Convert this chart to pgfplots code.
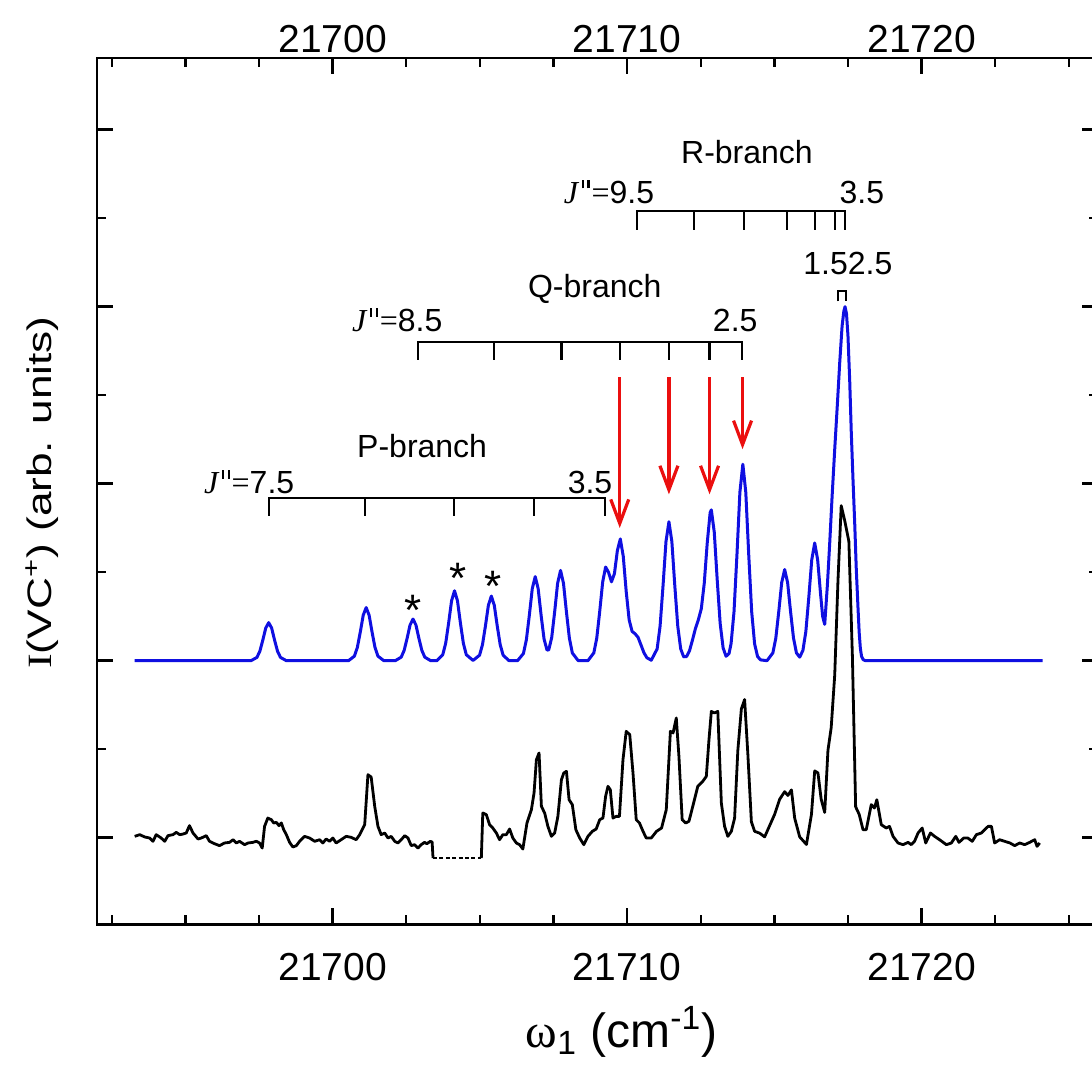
\documentclass[border=0pt]{standalone}
\usepackage{fontspec}
\setmainfont{Liberation Sans}
\newfontfamily\serif{Liberation Serif}
\usepackage{pgfplots}
\pgfplotsset{compat=1.18}
\usetikzlibrary{arrows.meta}
\definecolor{myblue}{RGB}{15,15,225}
\definecolor{myred}{RGB}{235,15,15}
\newcommand{\af}{\fontsize{16}{19}\selectfont}
\newcommand{\dq}{\kern0.12em\rule[0.46em]{0.07em}{0.26em}\kern0.1em\rule[0.46em]{0.07em}{0.26em}\kern0.06em}
\newcommand{\Jpp}{{\serif\itshape J}\dq{\serif =}}
\tikzset{brk/.style={line width=1.1pt}, rarr/.style={myred, line width=1.6pt, -{Straight Barb[length=12pt,width=9pt,line width=1.6pt]}}}
\begin{document}
\begin{tikzpicture}
\path[use as bounding box] (-48.5pt,-71.5pt) rectangle (497.5pt,462.2pt);
\begin{axis}[
  at={(0,0)}, anchor=south west, scale only axis,
  width=500.65pt, height=433.2pt,
  xmin=21692, xmax=21726, ymin=-0.98, ymax=8.81,
  xtick={21700,21710,21720}, scaled x ticks=false,
  minor xtick={21692.5,21695,21697.5,21702.5,21705,21707.5,21712.5,21715,21717.5,21722.5,21725},
  ytick={0,2,4,6,8}, minor ytick={1,3,5,7}, yticklabels={},
  tick pos=both, tick align=inside,
  major tick length=8pt, minor tick length=4.5pt,
  axis line style={line width=1.3pt},
  tick style={line width=1.2pt, black},
  xticklabel style={font=\fontsize{19.5}{22}\selectfont, yshift=-11pt},
  /pgf/number format/1000 sep={},
  /pgf/number format/assume math mode=true,
  clip=false,
]
% experimental (black)
\addplot[black, line width=1.4pt, line join=round] coordinates {
(21693.28,0.015) (21693.45,0.034) (21693.62,0.008) (21693.79,-0.004) (21693.90,-0.041) (21694.01,0.034) (21694.18,-0.004) (21694.30,-0.041) (21694.41,0.023) (21694.58,0.034) (21694.69,0.060) (21694.81,0.034) (21694.92,0.041) (21695.03,0.053) (21695.14,0.136) (21695.26,0.053) (21695.43,-0.015) (21695.54,-0.004) (21695.71,0.023) (21695.82,-0.041) (21695.99,-0.068) (21696.16,-0.090) (21696.33,-0.060) (21696.50,-0.053) (21696.62,-0.023) (21696.73,-0.060) (21696.84,-0.041) (21697.01,-0.079) (21697.13,-0.060) (21697.29,-0.053) (21697.41,-0.041) (21697.52,-0.060) (21697.61,-0.117) (21697.69,0.128) (21697.80,0.222) (21697.92,0.203) (21698.00,0.166) (21698.09,0.173) (21698.18,0.136) (21698.26,0.166) (21698.34,0.090) (21698.43,0.034) (21698.54,-0.053) (21698.65,-0.105) (21698.77,-0.090) (21698.88,-0.041) (21699.05,0.015) (21699.22,-0.004) (21699.39,-0.041) (21699.56,-0.023) (21699.67,-0.060) (21699.78,-0.015) (21699.90,-0.041) (21700.01,-0.004) (21700.12,-0.060) (21700.29,-0.023) (21700.46,0.015) (21700.63,0.004) (21700.80,-0.023) (21700.92,0.034) (21701.09,0.147) (21701.20,0.712) (21701.31,0.685) (21701.43,0.354) (21701.54,0.128) (21701.65,0.034) (21701.77,0.053) (21701.88,-0.004) (21701.99,0.015) (21702.11,-0.041) (21702.22,-0.060) (21702.33,-0.023) (21702.45,0.023) (21702.56,-0.004) (21702.67,-0.090) (21702.78,-0.079) (21702.90,-0.117) (21703.01,-0.079) (21703.12,-0.053) (21703.20,-0.068) (21703.32,-0.041) (21703.38,-0.05) (21703.41,-0.230)
};
\addplot[black, line width=0.6pt, dash pattern=on 2pt off 1.2pt] coordinates {(21703.41,-0.23) (21705.05,-0.23)};
\addplot[black, line width=1.4pt, line join=round] coordinates {
(21705.05,-0.23) (21705.10,0.279) (21705.22,0.26) (21705.33,0.147) (21705.44,0.109) (21705.56,0.053) (21705.67,-0.023) (21705.78,0.034) (21705.90,0.034) (21706.01,0.098) (21706.12,-0.004) (21706.24,-0.060) (21706.35,-0.079) (21706.46,-0.128) (21706.60,0.166) (21706.75,0.316) (21706.84,0.505) (21706.92,0.881) (21707.01,0.957) (21707.09,0.354) (21707.20,0.279) (21707.31,0.128) (21707.43,0.015) (21707.54,0.053) (21707.65,0.241) (21707.77,0.655) (21707.85,0.731) (21707.94,0.750) (21708.03,0.429) (21708.14,0.373) (21708.26,0.090) (21708.39,-0.004) (21708.53,-0.079) (21708.67,0.015) (21708.82,0.072) (21708.95,0.098) (21709.07,0.203) (21709.18,0.222) (21709.27,0.467) (21709.35,0.580) (21709.43,0.542) (21709.52,0.222) (21709.63,0.241) (21709.74,0.241) (21709.86,0.881) (21709.97,1.202) (21710.09,1.164) (21710.20,0.731) (21710.31,0.203) (21710.42,0.166) (21710.54,0.072) (21710.65,-0.004) (21710.82,-0.004) (21711.00,0.072) (21711.17,0.109) (21711.33,0.316) (21711.47,1.202) (21711.56,1.183) (21711.67,1.352) (21711.76,0.919) (21711.87,0.203) (21711.99,0.166) (21712.10,0.185) (21712.23,0.354) (21712.40,0.580) (21712.57,0.637) (21712.69,0.693) (21712.78,1.107) (21712.86,1.427) (21712.97,1.409) (21713.08,1.427) (21713.20,0.392) (21713.31,0.128) (21713.42,0.015) (21713.54,0.072) (21713.65,0.221) (21713.76,0.987) (21713.88,1.455) (21713.99,1.561) (21714.10,0.945) (21714.22,0.179) (21714.33,0.072) (21714.50,0.051) (21714.67,0.009) (21714.84,0.136) (21715.01,0.264) (21715.18,0.434) (21715.35,0.52) (21715.46,0.477) (21715.58,0.54) (21715.69,0.221) (21715.86,0.009) (21716.09,-0.077) (21716.26,0.264) (21716.37,0.754) (21716.48,0.732) (21716.59,0.434) (21716.71,0.285) (21716.82,0.988) (21716.93,1.243) (21717.05,1.838) (21717.16,2.902) (21717.27,3.752) (21717.39,3.582) (21717.53,3.348) (21717.65,2.051) (21717.76,0.349) (21717.88,0.264) (21718.01,0.09) (21718.12,0.09) (21718.29,0.373) (21718.40,0.335) (21718.48,0.429) (21718.63,0.147) (21718.80,0.109) (21718.91,0.128) (21719.03,0.015) (21719.20,-0.060) (21719.37,-0.079) (21719.54,-0.053) (21719.65,-0.079) (21719.76,-0.041) (21719.88,0.053) (21720.02,0.109) (21720.14,-0.060) (21720.30,0.053) (21720.44,0.015) (21720.61,-0.023) (21720.84,-0.079) (21721.01,-0.060) (21721.16,0.015) (21721.27,-0.053) (21721.43,-0.004) (21721.57,-0.004) (21721.72,-0.041) (21721.86,0.034) (21722.03,0.053) (21722.14,0.09) (21722.26,0.128) (21722.37,0.128) (21722.48,-0.060) (21722.65,-0.023) (21722.82,-0.041) (21723.00,-0.060) (21723.16,-0.090) (21723.33,-0.060) (21723.50,-0.079) (21723.67,-0.053) (21723.84,-0.023) (21723.92,-0.098) (21724.01,-0.060)
};
% simulation (blue)
\addplot[myblue, line width=1.5pt, line join=round] coordinates {
(21693.28,2)
(21697.23,2) (21697.43,2.037) (21697.53,2.107) (21697.63,2.232) (21697.73,2.369) (21697.83,2.43) (21697.93,2.369) (21698.03,2.232) (21698.13,2.107) (21698.23,2.037) (21698.43,2)
(21700.54,2) (21700.74,2.051) (21700.84,2.149) (21700.94,2.323) (21701.04,2.514) (21701.14,2.60) (21701.24,2.514) (21701.34,2.323) (21701.44,2.149) (21701.54,2.051) (21701.74,2)
(21702.13,2) (21702.33,2.040) (21702.43,2.117) (21702.53,2.253) (21702.63,2.403) (21702.73,2.47) (21702.83,2.403) (21702.93,2.253) (21703.03,2.117) (21703.13,2.040) (21703.33,2)
(21703.54,2) (21703.74,2.067) (21703.84,2.197) (21703.94,2.426) (21704.04,2.677) (21704.14,2.79) (21704.24,2.677) (21704.34,2.426) (21704.44,2.197) (21704.54,2.067) (21704.77,2.003)
(21704.99,2.062) (21705.09,2.182) (21705.19,2.393) (21705.29,2.626) (21705.39,2.73) (21705.49,2.626) (21705.59,2.393) (21705.69,2.182) (21705.79,2.062) (21705.99,2)
(21706.28,2) (21706.48,2.081) (21706.58,2.237) (21706.68,2.512) (21706.78,2.814) (21706.88,2.95) (21706.98,2.814) (21707.08,2.513) (21707.18,2.245) (21707.28,2.12) (21707.34,2.123) (21707.44,2.262) (21707.54,2.551) (21707.64,2.874) (21707.74,3.02) (21707.84,2.874) (21707.94,2.55) (21708.04,2.254) (21708.14,2.087) (21708.34,2.0)
(21708.67,2.0) (21708.87,2.088) (21708.97,2.256) (21709.07,2.556) (21709.17,2.888) (21709.27,3.058) (21709.37,2.998) (21709.47,2.891) (21709.57,2.984) (21709.67,3.245) (21709.77,3.376) (21709.87,3.177) (21709.97,2.78) (21710.07,2.46) (21710.17,2.331) (21710.27,2.304) (21710.37,2.265) (21710.47,2.179) (21710.57,2.091) (21710.67,2.034) (21710.82,2.005)
(21711.02,2.133) (21711.12,2.391) (21711.22,2.846) (21711.32,3.345) (21711.42,3.57) (21711.52,3.345) (21711.62,2.846) (21711.72,2.391) (21711.82,2.133) (21711.92,2.044) (21712.02,2.047) (21712.12,2.113) (21712.22,2.234) (21712.32,2.363) (21712.42,2.463) (21712.52,2.588) (21712.62,2.875) (21712.72,3.327) (21712.82,3.674) (21712.86,3.704) (21712.96,3.451) (21713.06,2.911) (21713.16,2.421) (21713.26,2.144) (21713.36,2.05) (21713.46,2.08) (21713.53,2.191) (21713.63,2.553) (21713.73,3.197) (21713.83,3.903) (21713.93,4.22) (21714.03,3.903) (21714.13,3.197) (21714.23,2.553) (21714.33,2.189) (21714.43,2.047) (21714.53,2.009) (21714.75,2)
(21714.95,2.088) (21715.05,2.256) (21715.15,2.555) (21715.25,2.883) (21715.35,3.03) (21715.45,2.883) (21715.55,2.555) (21715.65,2.256) (21715.75,2.088) (21715.86,2.04) (21715.97,2.116) (21716.07,2.331) (21716.17,2.717) (21716.27,3.14) (21716.37,3.33) (21716.47,3.14) (21716.57,2.75) (21716.64,2.50) (21716.71,2.41)
(21716.80,2.85) (21716.88,3.33) (21716.96,3.85) (21717.05,4.39) (21717.14,4.90) (21717.22,5.37) (21717.30,5.78) (21717.36,5.95) (21717.40,6.00) (21717.45,5.92) (21717.50,5.67) (21717.56,5.15) (21717.61,4.60) (21717.67,4.05) (21717.73,3.54) (21717.78,3.05) (21717.84,2.60) (21717.88,2.32) (21717.92,2.14) (21717.96,2.05) (21718.02,2.01) (21718.10,2) (21724.11,2)
};
% brackets
\draw[brk] (axis cs:21697.83,3.64) -- (axis cs:21697.83,3.84) -- (axis cs:21709.24,3.84) -- (axis cs:21709.24,3.64);
\draw[brk] (axis cs:21701.11,3.84) -- (axis cs:21701.11,3.64);
\draw[brk] (axis cs:21704.12,3.84) -- (axis cs:21704.12,3.64);
\draw[brk] (axis cs:21706.83,3.84) -- (axis cs:21706.83,3.64);
\draw[brk] (axis cs:21702.90,5.40) -- (axis cs:21702.90,5.60) -- (axis cs:21713.90,5.60) -- (axis cs:21713.90,5.40);
\draw[brk] (axis cs:21705.48,5.60) -- (axis cs:21705.48,5.40);
\draw[brk] (axis cs:21707.77,5.60) -- (axis cs:21707.77,5.40);
\draw[brk] (axis cs:21709.75,5.60) -- (axis cs:21709.75,5.40);
\draw[brk] (axis cs:21711.42,5.60) -- (axis cs:21711.42,5.40);
\draw[brk] (axis cs:21712.80,5.60) -- (axis cs:21712.80,5.40);
\draw[brk] (axis cs:21710.34,6.87) -- (axis cs:21710.34,7.08) -- (axis cs:21717.39,7.08) -- (axis cs:21717.39,6.87);
\draw[brk] (axis cs:21712.27,7.08) -- (axis cs:21712.27,6.87);
\draw[brk] (axis cs:21713.96,7.08) -- (axis cs:21713.96,6.87);
\draw[brk] (axis cs:21715.43,7.08) -- (axis cs:21715.43,6.87);
\draw[brk] (axis cs:21716.37,7.08) -- (axis cs:21716.37,6.87);
\draw[brk] (axis cs:21717.05,7.08) -- (axis cs:21717.05,6.87);
\draw[brk] (axis cs:21717.16,6.06) -- (axis cs:21717.16,6.18) -- (axis cs:21717.44,6.18) -- (axis cs:21717.44,6.06);
% labels
\node[font=\af, anchor=base] at (axis cs:21703.04,4.30) {P-branch};
\node[font=\af, anchor=base east, inner sep=0pt] at (axis cs:21698.71,3.89) {\Jpp7.5};
\node[font=\af, anchor=base east, inner sep=0pt] at (axis cs:21709.51,3.89) {3.5};
\node[font=\af, anchor=base] at (axis cs:21708.90,6.10) {Q-branch};
\node[font=\af, anchor=base east, inner sep=0pt] at (axis cs:21703.74,5.72) {\Jpp8.5};
\node[font=\af, anchor=base east, inner sep=0pt] at (axis cs:21714.44,5.72) {2.5};
\node[font=\af, anchor=base] at (axis cs:21714.07,7.62) {R-branch};
\node[font=\af, anchor=base east, inner sep=0pt] at (axis cs:21710.93,7.17) {\Jpp9.5};
\node[font=\af, anchor=base east, inner sep=0pt] at (axis cs:21718.74,7.17) {3.5};
\node[font=\af, anchor=base east, inner sep=0pt] at (axis cs:21719.02,6.36) {1.52.5};
% asterisks
\node[font=\fontsize{22}{24}\selectfont, anchor=base, inner sep=0pt] at (axis cs:21702.73,2.40) {*};
\node[font=\fontsize{22}{24}\selectfont, anchor=base, inner sep=0pt] at (axis cs:21704.26,2.76) {*};
\node[font=\fontsize{22}{24}\selectfont, anchor=base, inner sep=0pt] at (axis cs:21705.44,2.67) {*};
% red arrows
\draw[rarr] (axis cs:21709.75,5.20) -- (axis cs:21709.75,3.50);
\draw[rarr] (axis cs:21711.42,5.20) -- (axis cs:21711.42,3.88);
\draw[rarr] (axis cs:21712.80,5.20) -- (axis cs:21712.80,3.88);
\draw[rarr] (axis cs:21713.92,5.20) -- (axis cs:21713.92,4.39);
% axis labels
\node[font=\fontsize{24}{28}\selectfont, anchor=base] at (axis cs:21709.81,-2.37) {{\serif ω}\textsubscript{1} (cm\textsuperscript{-1})};
\node[font=\fontsize{17}{20}\selectfont, rotate=90, anchor=center] at (axis cs:21690.14,3.9) {\scalebox{1.3}[1]{{\serif I}(VC\textsuperscript{+}) (arb. units)}};
\end{axis}
\begin{axis}[
  at={(0,0)}, anchor=south west, scale only axis,
  width=500.65pt, height=433.2pt,
  xmin=21692, xmax=21726, ymin=-0.98, ymax=8.81,
  xtick={21700,21710,21720}, scaled x ticks=false, ytick=\empty,
  xticklabel pos=upper, tick pos=both, tick align=inside,
  major tick length=8pt,
  axis line style={line width=1.3pt},
  tick style={line width=1.2pt, black},
  xticklabel style={font=\fontsize{19.5}{22}\selectfont, yshift=-1pt},
  /pgf/number format/1000 sep={},
  /pgf/number format/assume math mode=true,
]
\end{axis}
\end{tikzpicture}
\end{document}
